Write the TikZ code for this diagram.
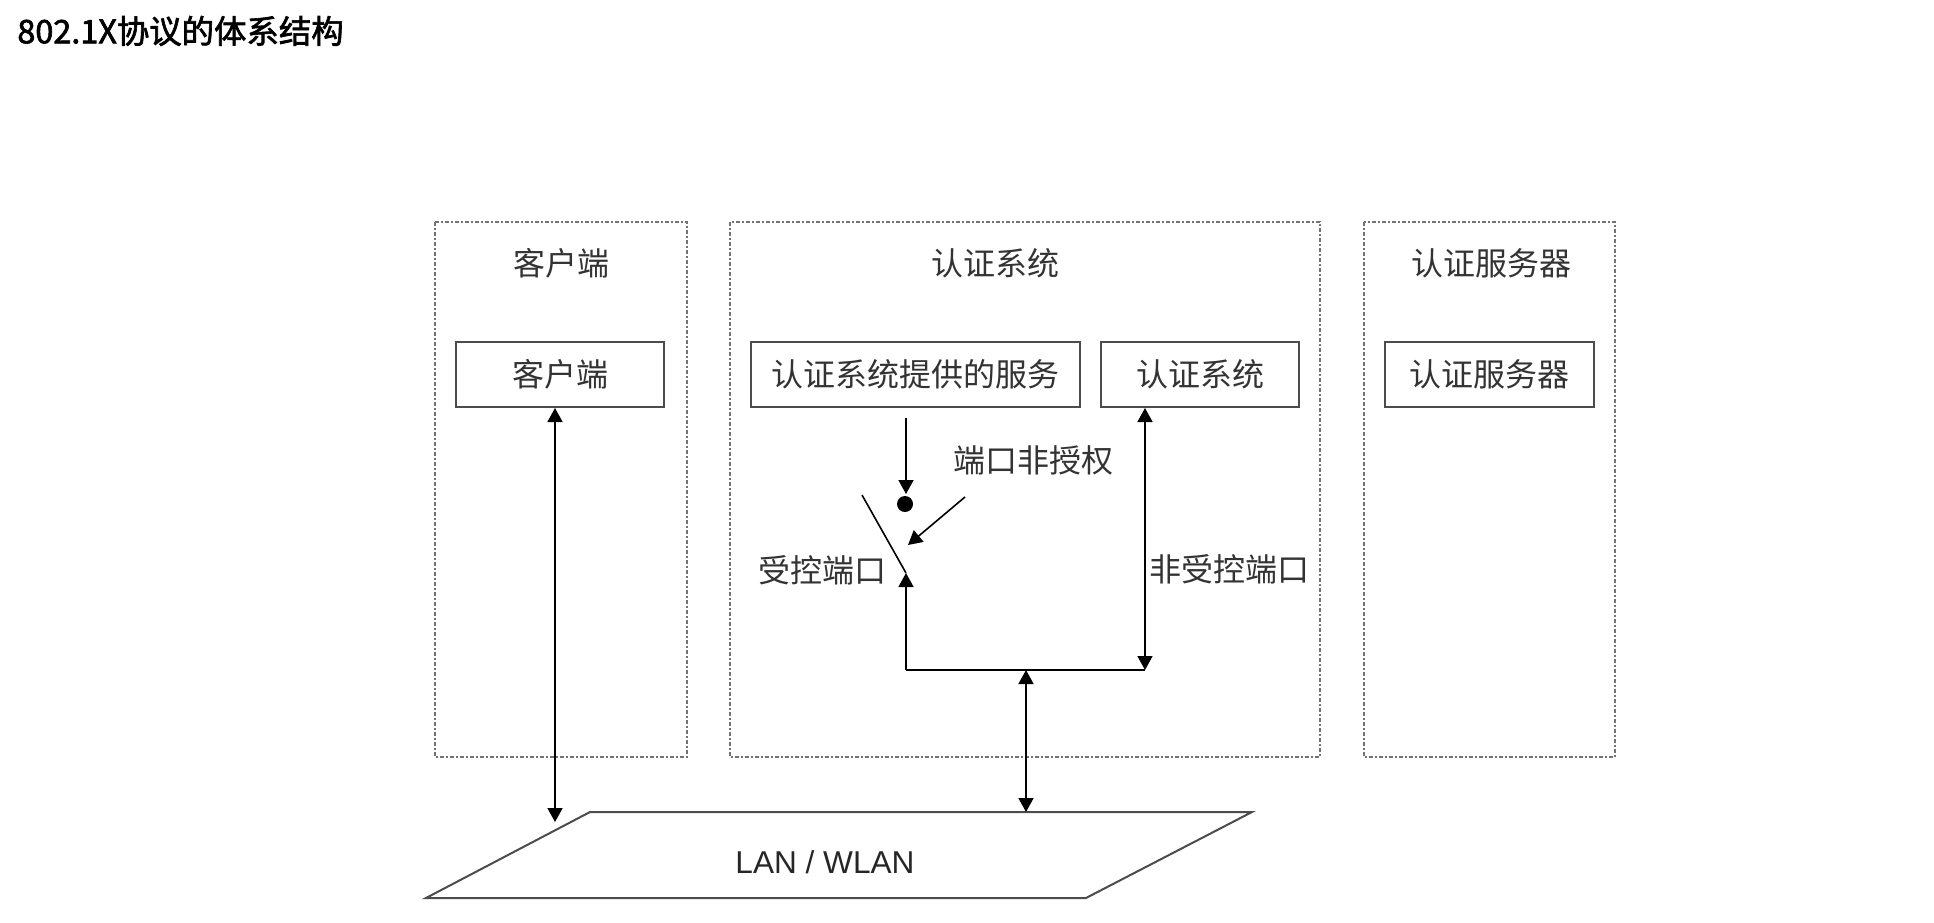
\documentclass[tikz,border=0pt]{standalone}
\usepackage{fontspec}
\setmainfont{Liberation Sans}
\newfontfamily\cjk{Noto Sans CJK SC}
\newfontfamily\cjktitle{Noto Sans CJK SC}[FakeBold=2]
\usetikzlibrary{arrows.meta}
\tikzset{
  grp/.style={draw=black!55, line width=0.6pt, dash pattern=on 2pt off 1.2pt on 0.6pt off 1.2pt},
  box/.style={draw=black!70, line width=1pt, minimum width=#1, minimum height=32.5pt, inner sep=0pt, font=\cjk\fontsize{16}{16}\selectfont, text=black!80},
  lbl/.style={font=\cjk\fontsize{16}{16}\selectfont, text=black!80, inner sep=0pt},
  conn/.style={draw=black, line width=0.8pt},
  tip/.style={-{Triangle[length=7pt,width=7.5pt]}},
  dtip/.style={{Triangle[length=7pt,width=7.5pt]}-{Triangle[length=7pt,width=7.5pt]}},
}
\begin{document}
\begin{tikzpicture}[x=0.5pt,y=-0.5pt]
\useasboundingbox (0,0) rectangle (1934,922);
% title
\node[anchor=west, inner sep=0pt, font=\cjktitle\fontsize{16.2}{16.2}\selectfont] (title) at (17,31) {802.1X协议的体系结构};
% group frames
\draw[grp] (435,222) rectangle (687,757);
\draw[grp] (730,222) rectangle (1320,757);
\draw[grp] (1364,222) rectangle (1615,757);
\node[lbl] (gclient) at (561,263) {客户端};
\node[lbl] (gauth) at (995,263) {认证系统};
\node[lbl] (gserver) at (1491,263) {认证服务器};
% inner boxes
\node[box=104pt] (client) at (560,374.5) {客户端};
\node[box=164.5pt] (svc) at (915.5,374.5) {认证系统提供的服务};
\node[box=99pt] (auth) at (1200,374.5) {认证系统};
\node[box=104.5pt] (server) at (1489.5,374.5) {认证服务器};
% LAN parallelogram
\draw[draw=black!70, line width=1pt] (426,898) -- (590,812) -- (1252,812) -- (1086,898) -- cycle;
\node[font=\fontsize{15.8}{15.8}\selectfont, text=black!85, inner sep=0pt] (lan) at (825,862) {LAN / WLAN};
\coordinate (lanL) at (555,822);
\coordinate (lanM) at (1026,812);
% switch
\coordinate (svcOut) at (906,418);
\fill (905,504) circle (4pt) coordinate (dot);
\coordinate (dotTop) at (906,494);
\coordinate (swTop) at (862,495);
\coordinate (swBot) at (906,573);
\coordinate (jL) at (906,670);
\coordinate (jR) at (1145,670);
\coordinate (jM) at (1026,670);
\coordinate (authIn) at (1145,408);
\coordinate (diagA) at (965,497);
\coordinate (diagB) at (908,545);
\node[lbl] (unauth) at (1033,460) {端口非授权};
\node[lbl] (ctrl) at (822,570) {受控端口};
\node[lbl] (unctrl) at (1229,569) {非受控端口};
% connectors
\draw[conn, dtip] (client.south -| lanL) -- (lanL);
\draw[conn, tip] (svcOut) -- (dotTop);
\draw[conn] (swTop) -- (swBot);
\draw[conn, tip] (diagA) -- (diagB);
\draw[conn, tip] (jL) -- (swBot);
\draw[conn] (jL) -- (jR);
\draw[conn, dtip] (authIn) -- (jR);
\draw[conn, dtip] (jM) -- (lanM);
\end{tikzpicture}
\end{document}
